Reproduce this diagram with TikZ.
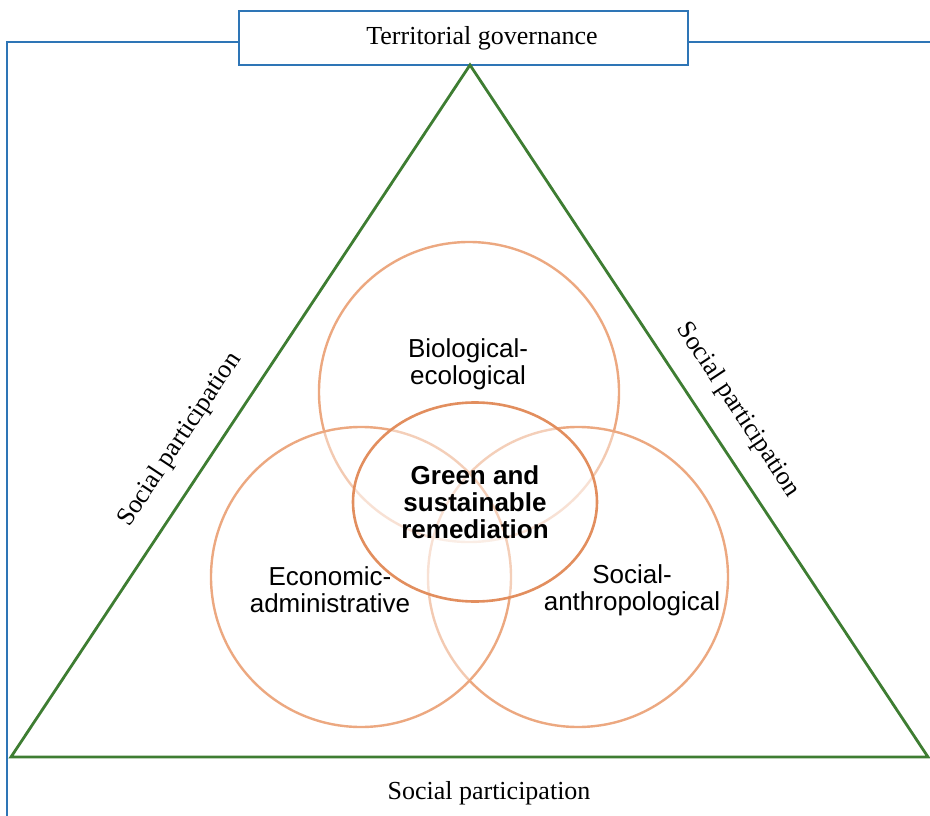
\documentclass[tikz,border=0pt]{standalone}
\usepackage{fontspec}
\setmainfont{Liberation Serif}
\newfontfamily\vennfont{Liberation Sans}
\usepackage{tikz}
\usetikzlibrary{positioning,shapes,calc}
\definecolor{frameblue}{RGB}{46,117,182}
\definecolor{trigreen}{RGB}{62,125,50}
\definecolor{vennorange}{RGB}{236,168,128}
\definecolor{coreorange}{RGB}{226,142,94}

\begin{document}
\begin{tikzpicture}[x=1pt, y=-1pt,
  frame/.style={frameblue, line width=2.8pt},
  tri/.style={trigreen, line width=2.8pt, line join=miter},
  sphere/.style={circle, draw=vennorange, line width=2.4pt, fill=white, fill opacity=0.4, minimum size=300pt, inner sep=0pt},
  core/.style={ellipse, draw=coreorange, line width=2.6pt, fill=white, fill opacity=0.45, minimum width=244pt, minimum height=199pt, inner sep=0pt},
  box/.style={rectangle, draw=frameblue, line width=1.5pt, fill=white, minimum width=449pt, minimum height=54pt, inner sep=0pt}]
\useasboundingbox (0,0) rectangle (930,816);
\begin{scope}[every node/.style={font=\fontsize{26}{27}\selectfont}]
\node[box] (tg) at (463.5,38) {\hspace*{37pt}\raisebox{-3pt}{Territorial governance}};
\node (spb) at (489,793) {Social participation};
\node[rotate=56.4] (spl) at (180,440) {Social participation};
\node[rotate=-56.4] (spr) at (738,410) {Social participation};
\end{scope}
\coordinate (apex) at (470,65);
\coordinate (bl) at (11,757);
\coordinate (br) at (928,757);
\coordinate (ftl) at (7,42);
\coordinate (fbl) at (7,816);
\coordinate (ftr) at (930,42);
\begin{scope}
\draw[frame] (tg.west |- ftl) -- (ftl) -- (fbl);
\draw[frame] (tg.east |- ftr) -- (ftr);
\draw[tri] (apex) -- (br) -- (bl) -- cycle;
\end{scope}
\begin{scope}
\node[sphere] (bio) at (469,392) {};
\node[sphere] (soc) at (578,577) {};
\node[sphere] (eco) at (361,577) {};
\node[core] (gsr) at (475,502) {};
\end{scope}
\begin{scope}[every node/.style={font=\vennfont\fontsize{26}{27}\selectfont, align=center}]
\node (biol) at (468,364) {Biological-\\ecological};
\node (ecol) at (330,590) {Economic-\\administrative};
\node (socl) at (632,590) {Social-\\anthropological};
\node[font=\vennfont\bfseries\fontsize{26}{27}\selectfont] (gsrl) at (gsr) {Green and\\sustainable\\remediation};
\end{scope}
\end{tikzpicture}
\end{document}
